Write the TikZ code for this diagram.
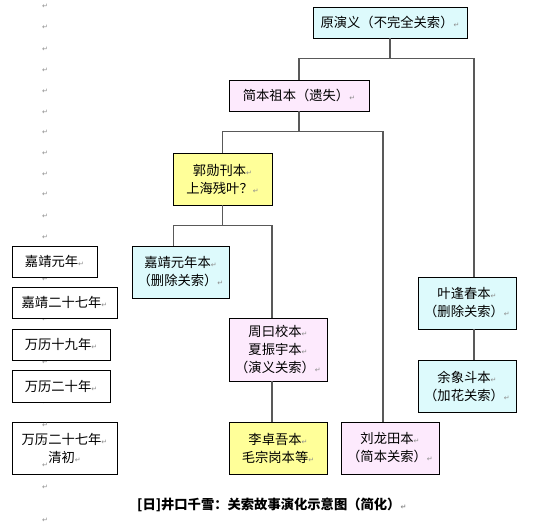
\documentclass[tikz,border=0pt]{standalone}
\usepackage{fontspec}
\newfontfamily\cjk{Noto Sans CJK SC}
\newfontfamily\retfont{DejaVu Sans}
\usepackage{tikz}
\usetikzlibrary{positioning}

% small grey paragraph mark
\newcommand{\ret}{{\retfont\fontsize{7}{7}\selectfont\textcolor{black!45}{↵}}}

\begin{document}
\begin{tikzpicture}[x=1pt, y=-1pt,
  box/.style={rectangle, draw, line width=0.8pt, inner sep=0pt, align=center,
    font=\cjk\fontsize{13.3}{18}\selectfont},
  cyanbox/.style={box, fill=cyancol},
  pinkbox/.style={box, fill=pinkcol},
  yellowbox/.style={box, fill=yellowcol},
  yearbox/.style={box, fill=white},
  link/.style={draw=black!65, line width=1.4pt},
  retmark/.style={inner sep=0pt, font=\retfont\fontsize{7}{7}\selectfont, text=black!45}]
  % Define colors for the boxes
  \definecolor{cyancol}{RGB}{221,250,252}    % Light cyan
  \definecolor{pinkcol}{RGB}{253,234,253}    % Light pink
  \definecolor{yellowcol}{RGB}{255,255,153}  % Light yellow

  \useasboundingbox (0,0) rectangle (558,527);

  % Paragraph marks down the left margin
  \foreach \y in {6,27,49,70,91,112,132,153,174,194,216,237,279,319,362,402,487,520}
    \node[retmark] (r\y) at (45,\y) {↵};

  % Editions
  \node[cyanbox, minimum width=154, minimum height=31] (yuan) at (390,22.5) {原演义（不完全关索）\ret};
  \node[pinkbox, minimum width=140, minimum height=31] (jian) at (299,95.5) {简本祖本（遗失）\ret};
  \node[yellowbox, minimum width=99, minimum height=52] (guo) at (222.5,179) {郭勋刊本\ret\\上海残叶？\ret};
  \node[cyanbox, minimum width=97, minimum height=52] (jiajing) at (180.5,272) {嘉靖元年本\ret\\（删除关索）\ret};
  \node[pinkbox, minimum width=98, minimum height=63] (zhou) at (278,349.5) {周曰校本\ret\\夏振宇本\ret\\（演义关索）\ret};
  \node[yellowbox, minimum width=98, minimum height=52] (li) at (278,448) {李卓吾本\ret\\毛宗岗本等\ret};
  \node[pinkbox, minimum width=98, minimum height=52] (liu) at (390,448) {刘龙田本\ret\\（简本关索）\ret};
  \node[cyanbox, minimum width=98, minimum height=52] (ye) at (467,303) {叶逢春本\ret\\（删除关索）\ret};
  \node[cyanbox, minimum width=98, minimum height=52] (yu) at (467,386) {余象斗本\ret\\（加花关索）\ret};

  % Years
  \node[yearbox, minimum width=85, minimum height=31] (t1) at (54.5,261.5) {嘉靖元年\ret};
  \node[yearbox, minimum width=105, minimum height=31] (t2) at (64.5,302.5) {嘉靖二十七年\ret};
  \node[yearbox, minimum width=98, minimum height=31] (t3) at (61,344.5) {万历十九年\ret};
  \node[yearbox, minimum width=98, minimum height=32] (t4) at (61,386) {万历二十年\ret};
  \node[yearbox, minimum width=105, minimum height=52] (t5) at (64.5,448) {万历二十七年\ret\\清初\ret};
  \foreach \y in {425,442,465}
    \node[retmark] (r\y) at (45,\y) {↵};

  % Tree lines
  \draw[link] (yuan.south) -- ++(0,21);
  \draw[link] (jian.north) -- ++(0,-21) -| ([xshift=7pt]ye.north);
  \draw[link] (jian.south) -- ++(0,21);
  \draw[link] (guo.north) -- ++(0,-21) -| ([xshift=-7pt]liu.north);
  \draw[link] (guo.south) -- ++(0,21);
  \draw[link] ([xshift=-7pt]jiajing.north) -- ++(0,-20) -| ([xshift=-6pt]zhou.north);
  \draw[link] ([xshift=-6pt]zhou.south) -- ([xshift=-6pt]li.north);
  \draw[link] ([xshift=7pt]ye.south) -- ([xshift=7pt]yu.north);

  % Caption
  \node[anchor=west, inner sep=0pt, font=\cjk\bfseries\fontsize{13.3}{15}\selectfont] (caption) at (137,505) {[日]井口千雪：关索故事演化示意图（简化）\ret};
\end{tikzpicture}
\end{document}
